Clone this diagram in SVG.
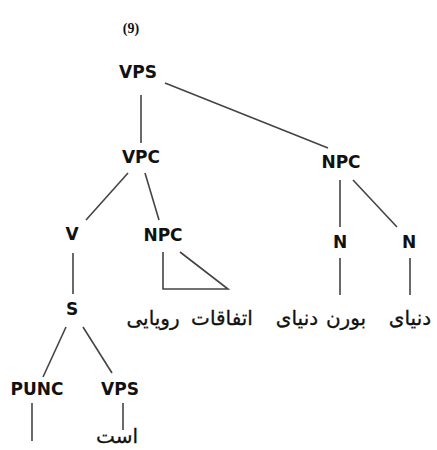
<svg xmlns="http://www.w3.org/2000/svg" width="437" height="450" viewBox="0 0 437 450">
<style>
.lbl{font-family:"DejaVu Sans","Liberation Sans",sans-serif;font-weight:bold;font-size:17px;fill:#111;text-anchor:middle}
.fa{font-family:"DejaVu Sans","Noto Sans",sans-serif;font-size:20px;fill:#111;stroke:#111;stroke-width:0.3;text-anchor:middle}
.num{font-family:"Liberation Serif",serif;font-weight:bold;font-size:14px;fill:#111;text-anchor:middle}
#edges line,#edges polyline{stroke:#444;stroke-width:1.6;fill:none}
</style>
<rect width="437" height="450" fill="#fff"/>
<text class="num" x="131" y="33">(9)</text>
<g id="edges">
<line x1="141" y1="95" x2="141" y2="143"/>
<line x1="165" y1="83" x2="328" y2="148"/>
<line x1="128" y1="173" x2="86" y2="220"/>
<line x1="145" y1="173" x2="159" y2="220"/>
<polyline points="163,252 163,289 228,289 180,252"/>
<line x1="340" y1="180" x2="340" y2="227"/>
<line x1="353" y1="180" x2="397" y2="227"/>
<line x1="340" y1="258" x2="340" y2="295"/>
<line x1="410" y1="258" x2="410" y2="295"/>
<line x1="73" y1="253" x2="73" y2="294"/>
<line x1="66" y1="327" x2="43" y2="377"/>
<line x1="83" y1="327" x2="112" y2="373"/>
<line x1="32" y1="403" x2="32" y2="441"/>
<line x1="123" y1="403" x2="123" y2="430"/>
</g>
<g id="n-vps"><text class="lbl" x="138" y="78">VPS</text></g>
<g id="n-vpc"><text class="lbl" x="141" y="163">VPC</text></g>
<g id="n-npc1"><text class="lbl" x="341" y="168">NPC</text></g>
<g id="n-v"><text class="lbl" x="72" y="240">V</text></g>
<g id="n-npc2"><text class="lbl" x="163" y="241">NPC</text></g>
<g id="n-n1"><text class="lbl" x="340" y="248">N</text></g>
<g id="n-n2"><text class="lbl" x="409" y="248">N</text></g>
<g id="n-s"><text class="lbl" x="72" y="315">S</text></g>
<g id="n-punc"><text class="lbl" x="37" y="395">PUNC</text></g>
<g id="n-vps2"><text class="lbl" x="120" y="395">VPS</text></g>
<g id="leaf-1"><text class="fa" x="153" y="325" direction="rtl">رویایی</text><text class="fa" x="222" y="325" direction="rtl">اتفاقات</text></g>
<g id="leaf-2"><text class="fa" x="297" y="325" direction="rtl">دنیای</text><text class="fa" x="346" y="325" direction="rtl">بورن</text></g>
<g id="leaf-3"><text class="fa" x="410" y="325" direction="rtl">دنیای</text></g>
<g id="leaf-4"><text class="fa" x="117" y="443" direction="rtl">است</text></g>
</svg>
